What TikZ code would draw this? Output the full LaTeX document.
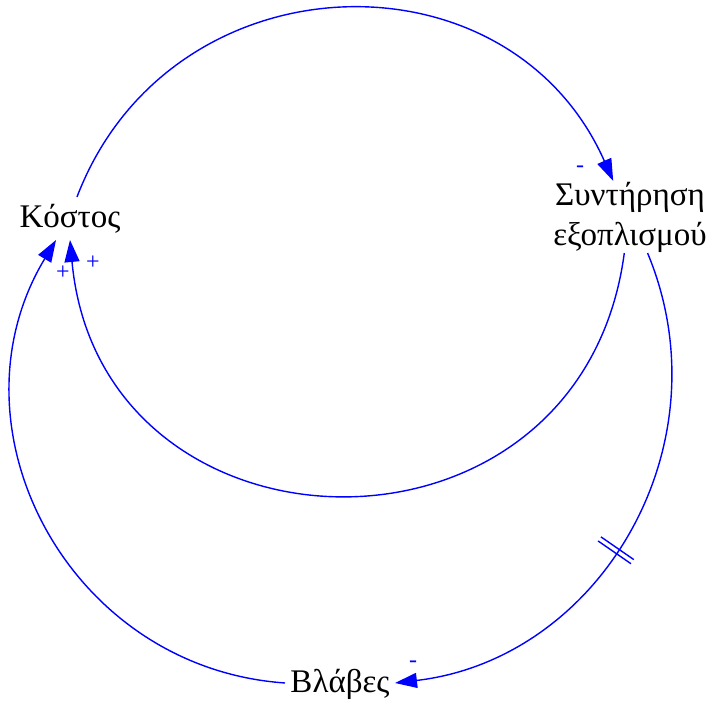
\documentclass[tikz,border=0pt]{standalone}
\usepackage{fontspec}
\setmainfont{Liberation Serif}
\usetikzlibrary{arrows.meta,decorations.markings}
\begin{document}
\begin{tikzpicture}[x=1pt,y=1pt,
  var/.style={inner sep=0pt, outer sep=0pt, font=\fontsize{33}{40}\selectfont},
  link/.style={draw=blue, line width=1.4pt, -{Triangle[length=22pt,width=15pt]}},
  pol/.style={text=blue, inner sep=0pt, font=\fontsize{24}{26}\selectfont},
  delaymark/.style={postaction={decorate, decoration={markings, mark=at position #1 with {\draw[blue, line width=1.4pt, -] (-2.5pt,-20pt)--(-2.5pt,20pt) (2.5pt,-20pt)--(2.5pt,20pt);}}}}
]
\useasboundingbox (0,0) rectangle (710,703);
\node[var, anchor=base, text height=31pt, text depth=12pt, minimum width=112pt] (K) at (70,475) {Κόστος};
\node[var, align=center, minimum width=164pt, minimum height=72pt] (S) at (630,486) {Συντήρηση\\εξοπλισμού};
\node[var, anchor=base, text height=20pt, text depth=0pt, minimum width=110pt] (B) at (340,10) {Βλάβες};

\draw[link] (K.72) to[out=69.1, in=113.9, looseness=1.233] (S.115.3);
\draw[link] (S.-99.5) to[out=-97.55, in=-84.7, looseness=1.532] (K.south);
\draw[link, delaymark=0.54] (S.-64.7) to[out=-67.4, in=6.7, looseness=1.064] (B.east);
\draw[link] (B.west) to[out=176, in=238.9, looseness=1.12] (K.237);

\node[pol] (p1) at (580,534) {-};
\node[pol] (p2) at (413,39) {-};
\node[pol] (p3) at (93,440) {+};
\node[pol] (p4) at (63,430) {+};
\end{tikzpicture}
\end{document}
